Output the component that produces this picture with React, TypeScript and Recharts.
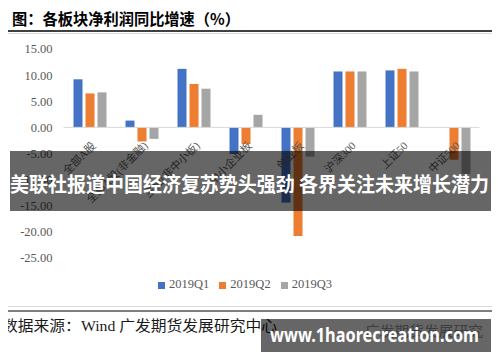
import React from 'react';
import { BarChart, Bar, XAxis, YAxis, ReferenceLine, Legend } from 'recharts';

const categories = ['全部A股', '全部A股(非金融)', '主板(非中小板)', '中小企业板', '创业板', '沪深300', '上证50', '中证500'];
const q1 = [9.2, 1.3, 11.2, -5.1, -14.4, 10.7, 10.9, 0];
const q2 = [6.5, -2.7, 8.3, -3.2, -20.8, 10.7, 11.2, -6.2];
const q3 = [6.7, -2.2, 7.4, 2.4, -5.6, 10.7, 10.7, -8.9];
const seriesNames = ['2019Q1', '2019Q2', '2019Q3'];
const colors = ['#4472C4', '#ED7D31', '#A5A5A5'];
const yTicks = [15, 10, 5, 0, -5, -10, -15, -20, -25];

const data = categories.map((name, i) => ({ name, q1: q1[i], q2: q2[i], q3: q3[i] }));

// plot area in page pixels
const plotTop = 49;
const plotBottom = 258;
const yMax = 15;
const yMin = -25;
const zeroY = plotTop + ((yMax - 0) / (yMax - yMin)) * (plotBottom - plotTop);

const serif = "'Liberation Serif', 'Noto Sans CJK SC', serif";
const cjk = "'Noto Sans CJK SC', sans-serif";

const XTick = (props: any) => {
  const { x, payload } = props;
  const ax = x + 7;
  const ay = zeroY + 19;
  return (
    <text
      x={ax}
      y={ay}
      transform={`rotate(-45, ${ax}, ${ay})`}
      textAnchor="end"
      fontSize={11}
      fill="#595959"
      fontFamily={serif}
    >
      {payload.value}
    </text>
  );
};

const App = () => {
  return (
    <div style={{ position: 'relative', width: 500, height: 362, margin: -8, background: '#fff', overflow: 'hidden' }}>
      <div
        style={{
          position: 'absolute',
          left: 7,
          top: 33,
          width: 487,
          height: 274,
          border: '1px solid #D9D9D9',
          boxSizing: 'border-box',
        }}
      />
      <div style={{ position: 'absolute', left: 0, top: 0 }}>
        <BarChart
          width={500}
          height={362}
          data={data}
          margin={{ top: plotTop, right: 20.5, bottom: 362 - plotBottom - 1, left: 8.5 }}
          barGap={3}
          barSize={9}
        >
          <YAxis
            width={55}
            domain={[yMin, yMax]}
            ticks={yTicks}
            interval={0}
            axisLine={false}
            tickLine={false}
            tickMargin={5}
            tickFormatter={(v: number) => v.toFixed(2)}
            tick={{ fontSize: 12.5, fill: '#595959', fontFamily: serif }}
          />
          <XAxis dataKey="name" height={1} axisLine={false} tickLine={false} interval={0} tick={<XTick />} />
          <ReferenceLine y={0} stroke="#D9D9D9" strokeWidth={1} />
          <Bar dataKey="q1" name={seriesNames[0]} fill={colors[0]} isAnimationActive={false} />
          <Bar dataKey="q2" name={seriesNames[1]} fill={colors[1]} isAnimationActive={false} />
          <Bar dataKey="q3" name={seriesNames[2]} fill={colors[2]} isAnimationActive={false} />
          <Legend
            verticalAlign="middle"
            align="center"
            layout="horizontal"
            iconType="square"
            iconSize={7}
            wrapperStyle={{ top: 277, left: 0, width: 500, fontFamily: serif, fontSize: 12.5 }}
            formatter={(v: string) => <span style={{ color: '#595959' }}>{v}</span>}
          />
        </BarChart>
      </div>
      <svg width={500} height={362} style={{ position: 'absolute', left: 0, top: 0, pointerEvents: 'none' }}>
        <text x={12} y={25} fontSize={15.5} fontWeight="bold" fontFamily={cjk} fill="#000" textLength={228} lengthAdjust="spacingAndGlyphs">
          图：各板块净利润同比增速（%）
        </text>
        <line x1={0} x2={500} y1={31} y2={31} stroke="#000" strokeWidth={1.5} />
        <line x1={0} x2={500} y1={311} y2={311} stroke="#000" strokeWidth={1.2} />
        <text x={2} y={331} fontSize={14.5} fontFamily={serif} fill="#1a1a1a" textLength={275} lengthAdjust="spacingAndGlyphs">
          数据来源：Wind 广发期货发展研究中心
        </text>
        <text x={365} y={336} fontSize={14} fontFamily={cjk} fill="#999" textLength={118} lengthAdjust="spacingAndGlyphs">
          广发期货发展研究
        </text>
        <rect x={10} y={151} width={481} height={60} fill="rgba(0,0,0,0.6)" />
        <text x={10} y={192} fontSize={20} fontWeight="bold" fontFamily={cjk} fill="#fff" textLength={479} lengthAdjust="spacingAndGlyphs">
          美联社报道中国经济复苏势头强劲 各界关注未来增长潜力
        </text>
        <rect x={261} y={319} width={230} height={33} fill="rgba(0,0,0,0.6)" />
        <text x={270} y={342} fontSize={19} fontWeight="bold" fontFamily="'Noto Sans', sans-serif" fill="#fff" textLength={209} lengthAdjust="spacingAndGlyphs">
          www.1haorecreation.com
        </text>
      </svg>
    </div>
  );
};

export default App;
